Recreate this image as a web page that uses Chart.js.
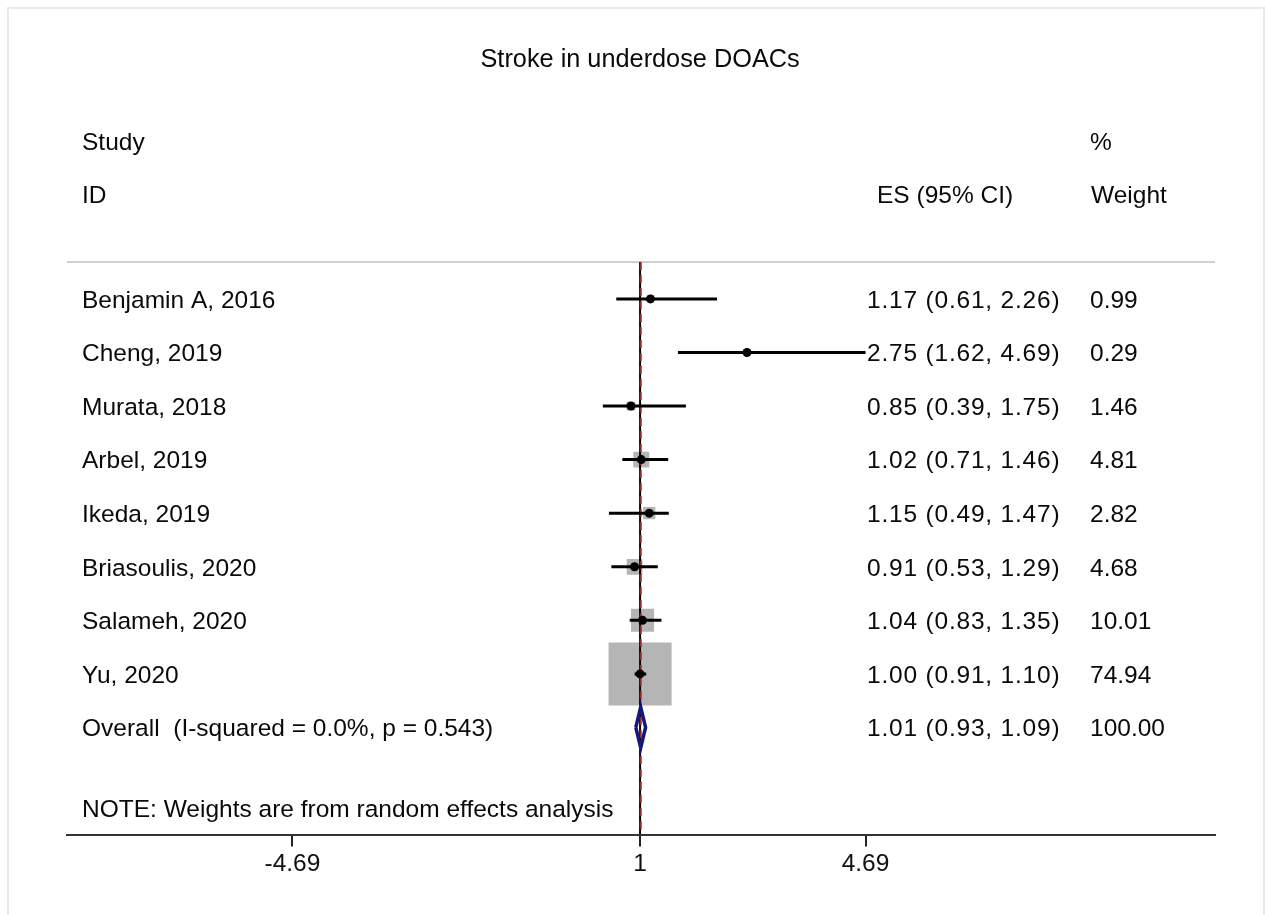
<!DOCTYPE html>
<html>
<head>
<meta charset="utf-8">
<script src="https://cdn.jsdelivr.net/npm/chart.js@4/dist/chart.umd.min.js"></script>
<style>
  html, body { margin: 0; padding: 0; background: #fff; }
  canvas { display: block; }
</style>
</head>
<body>
<canvas id="forest" width="1265" height="915"></canvas>
<script>
// Stroke in underdose DOACs - forest plot
const studies = ['Benjamin A, 2016', 'Cheng, 2019', 'Murata, 2018', 'Arbel, 2019', 'Ikeda, 2019',
  'Briasoulis, 2020', 'Salameh, 2020', 'Yu, 2020'];
const es = [1.17, 2.75, 0.85, 1.02, 1.15, 0.91, 1.04, 1.00];
const lower = [0.61, 1.62, 0.39, 0.71, 0.49, 0.53, 0.83, 0.91];
const upper = [2.26, 4.69, 1.75, 1.46, 1.47, 1.29, 1.35, 1.10];
const weights = [0.99, 0.29, 1.46, 4.81, 2.82, 4.68, 10.01, 74.94];
const overallLabel = 'Overall  (I-squared = 0.0%, p = 0.543)';
const overallES = 1.01, overallLower = 0.93, overallUpper = 1.09, overallWeight = 100.00;
const xTicks = [-4.69, 1, 4.69];

const FONT = '"Liberation Sans", Arial, sans-serif';
const fs = 24.5;
const nRows = studies.length;

// layout rows (in y units, 0 = first study)
const ROW_TITLE = -4.5, ROW_STUDY = -2.95, ROW_ID = -1.95, ROW_SEP = -0.69, ROW_NOTE = 9.5, ROW_AXIS = 10;

const boxData = studies.map((s, i) => ({ x: es[i], y: i, w: weights[i] }));
const pointData = studies.map((s, i) => ({ x: es[i], y: i }));
const ciSets = studies.map((s, i) => ({
  type: 'line',
  data: [{ x: lower[i], y: i }, { x: upper[i], y: i }],
  borderColor: '#000',
  borderWidth: 3,
  pointRadius: 0,
  fill: false
}));
const d = 0.38;
const diamond = [
  { x: overallLower, y: nRows }, { x: overallES, y: nRows - d },
  { x: overallUpper, y: nRows }, { x: overallES, y: nRows + d },
  { x: overallLower, y: nRows }
];

const fmtCI = (e, l, u) => e.toFixed(2) + ' (' + l.toFixed(2) + ', ' + u.toFixed(2) + ')';

const textPlugin = {
  id: 'forestText',
  beforeDatasetsDraw(chart) {
    const { ctx, chartArea, scales: { y } } = chart;
    ctx.save();
    ctx.strokeStyle = '#cfcfcf';
    ctx.lineWidth = 2;
    const sy = y.getPixelForValue(ROW_SEP);
    ctx.beginPath();
    ctx.moveTo(chartArea.left, sy);
    ctx.lineTo(chartArea.right, sy);
    ctx.stroke();
    ctx.restore();
  },
  afterDraw(chart) {
    const { ctx, scales: { x, y } } = chart;
    const ty = v => y.getPixelForValue(v) + 2; // nudge text to sit on row centre
    ctx.save();
    // outer frame
    ctx.strokeStyle = '#e4ecec';
    ctx.lineWidth = 2;
    ctx.strokeRect(8, 8, 1256, 1000);

    ctx.fillStyle = '#0a0a0a';
    ctx.textBaseline = 'middle';

    ctx.textAlign = 'center';
    ctx.font = '25.3px ' + FONT;
    ctx.fillText('Stroke in underdose DOACs', x.getPixelForValue(1), ty(ROW_TITLE));

    ctx.font = fs + 'px ' + FONT;
    ctx.textAlign = 'left';
    const colName = 82, colES = 867, colES_head = 877, colW = 1090;
    ctx.fillText('Study', colName, ty(ROW_STUDY));
    ctx.fillText('ID', colName, ty(ROW_ID));
    ctx.fillText('%', colW, ty(ROW_STUDY));
    ctx.fillText('Weight', colW + 1, ty(ROW_ID));
    ctx.fillText('ES (95% CI)', colES_head, ty(ROW_ID));

    studies.forEach((s, i) => {
      ctx.fillText(s, colName, ty(i));
      ctx.fillText(weights[i].toFixed(2), colW, ty(i));
    });
    ctx.fillText(overallLabel, colName, ty(nRows));
    ctx.fillText(overallWeight.toFixed(2), colW, ty(nRows));
    ctx.fillText('NOTE: Weights are from random effects analysis', colName, ty(ROW_NOTE));

    // ES column is set a little wider in the original
    ctx.letterSpacing = '0.8px';
    studies.forEach((s, i) => {
      ctx.fillText(fmtCI(es[i], lower[i], upper[i]), colES, ty(i));
    });
    ctx.fillText(fmtCI(overallES, overallLower, overallUpper), colES, ty(nRows));
    ctx.restore();
  }
};

new Chart(document.getElementById('forest'), {
  type: 'scatter',
  data: {
    datasets: [
      {
        type: 'line',
        data: diamond,
        borderColor: '#16167a',
        borderWidth: 3.5,
        pointRadius: 0,
        fill: false,
        tension: 0
      },
      {
        data: pointData,
        pointStyle: 'circle',
        pointRadius: 4.5,
        backgroundColor: '#000',
        borderWidth: 0
      },
      ...ciSets,
      {
        type: 'line',
        data: [{ x: overallES, y: ROW_SEP }, { x: overallES, y: ROW_AXIS }],
        borderColor: '#8e2a2a',
        borderWidth: 2,
        borderDash: [8, 5],
        pointRadius: 0
      },
      {
        type: 'line',
        data: [{ x: 1, y: ROW_SEP }, { x: 1, y: ROW_AXIS }],
        borderColor: '#000',
        borderWidth: 2,
        pointRadius: 0
      },
      {
        data: boxData,
        pointStyle: 'rect',
        pointRadius: ctx => 7.28 * Math.sqrt(ctx.raw.w) / Math.SQRT2,
        backgroundColor: '#b5b5b5',
        borderWidth: 0
      }
    ]
  },
  options: {
    responsive: false,
    animation: false,
    events: [],
    layout: { autoPadding: false, padding: { left: 67, right: 50, top: 0, bottom: 33 } },
    plugins: { legend: { display: false }, tooltip: { enabled: false } },
    scales: {
      x: {
        type: 'linear',
        min: -8.38,
        max: 10.41,
        afterBuildTicks: scale => { scale.ticks = xTicks.map(v => ({ value: v })); },
        ticks: {
          autoSkip: false,
          maxRotation: 0,
          color: '#111',
          font: { family: FONT, size: fs },
          callback: v => String(v)
        },
        grid: { drawOnChartArea: false, drawTicks: true, tickLength: 12, color: '#222', lineWidth: 2 },
        border: { color: '#333', width: 2 }
      },
      y: {
        type: 'linear',
        reverse: true,
        min: -5.58,
        max: ROW_AXIS,
        display: false
      }
    }
  },
  plugins: [textPlugin]
});
</script>
</body>
</html>
